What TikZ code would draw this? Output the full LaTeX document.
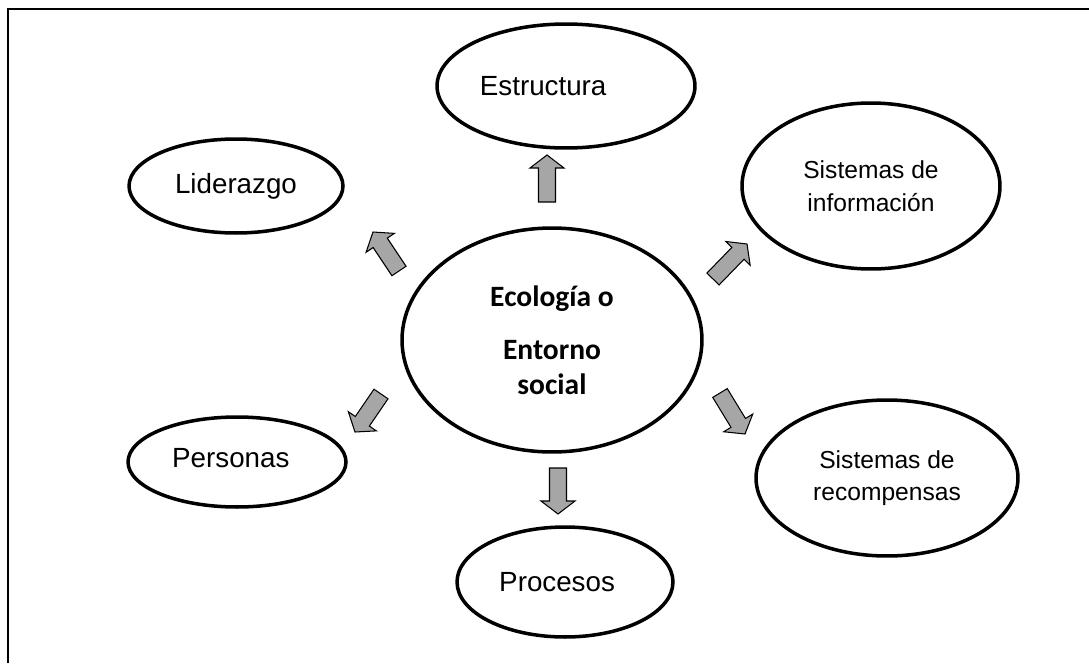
\documentclass[tikz,border=0pt]{standalone}
\usepackage{fontspec}
\setmainfont{Liberation Sans}
\newfontfamily\calibri{Carlito}
\usepackage{tikz}
\usetikzlibrary{shapes.geometric,calc}
\tikzset{every node/.style={font=\fontsize{15.8}{19}\selectfont}}

\newcommand{\blockarrow}[2]{%
  \coordinate (#2b) at ($(#2)!0.26cm!(#1)$);
  \draw[fatarrow] ($(#1)!0.17cm!90:(#2)$) -- ($(#2b)!0.17cm!90:(#2)$)
    -- ($(#2b)!0.34cm!90:(#2)$) -- (#2) -- ($(#2b)!0.34cm!-90:(#2)$)
    -- ($(#2b)!0.17cm!-90:(#2)$) -- ($(#1)!0.17cm!-90:(#2)$) -- cycle;}

\begin{document}
\begin{tikzpicture}[
  x=0.02cm, y=-0.02cm,
  bubble/.style={
    draw,
    ellipse,
    line width=2pt,
    inner sep=0pt,
    align=center
  },
  small/.style={font=\fontsize{14}{18.5}\selectfont},
  fatarrow/.style={draw, line width=0.6pt, fill=black!35, line join=miter},
  frame/.style={line width=1.7pt}
]
\useasboundingbox (0,0) rectangle (1089,663);

\draw[frame] (1089,9) -- (8,9) -- (8,663);

\node[bubble, minimum width=6cm, minimum height=4.48cm,
  font=\calibri\bfseries\fontsize{16.8}{20}\selectfont] (eco) at (552,340)
{Ecología o\\[10pt]Entorno\\social};

\node[bubble, minimum width=5.16cm, minimum height=2.48cm] (est) at (566,86)
{Estructura\hspace*{26pt}};
\node[bubble, minimum width=4.28cm, minimum height=1.88cm] (lid) at (236,186) {Liderazgo};
\node[bubble, small, minimum width=5.16cm, minimum height=3.32cm] (info) at (871,186)
{Sistemas de\\información};
\node[bubble, minimum width=4.36cm, minimum height=1.8cm] (pers) at (237,462)
{\raisebox{5pt}{Personas}\hspace*{7pt}};
\node[bubble, minimum width=4.32cm, minimum height=2.2cm] (proc) at (565,582)
{Procesos\hspace*{9pt}};
\node[bubble, small, minimum width=5.24cm, minimum height=3.12cm] (rec) at (887,478)
{Sistemas de\\recompensas};

\coordinate (upT) at (547,202);
\coordinate (upH) at (547,155);
\coordinate (dnT) at (558,468);
\coordinate (dnH) at (558,514);
\coordinate (ulT) at (399,271);
\coordinate (ulH) at (373,232);
\coordinate (urT) at (713,279);
\coordinate (urH) at (747,244);
\coordinate (llT) at (381,394);
\coordinate (llH) at (355,432);
\coordinate (lrT) at (720,393);
\coordinate (lrH) at (745,434);

\blockarrow{upT}{upH}
\blockarrow{dnT}{dnH}
\blockarrow{ulT}{ulH}
\blockarrow{urT}{urH}
\blockarrow{llT}{llH}
\blockarrow{lrT}{lrH}

\end{tikzpicture}
\end{document}
